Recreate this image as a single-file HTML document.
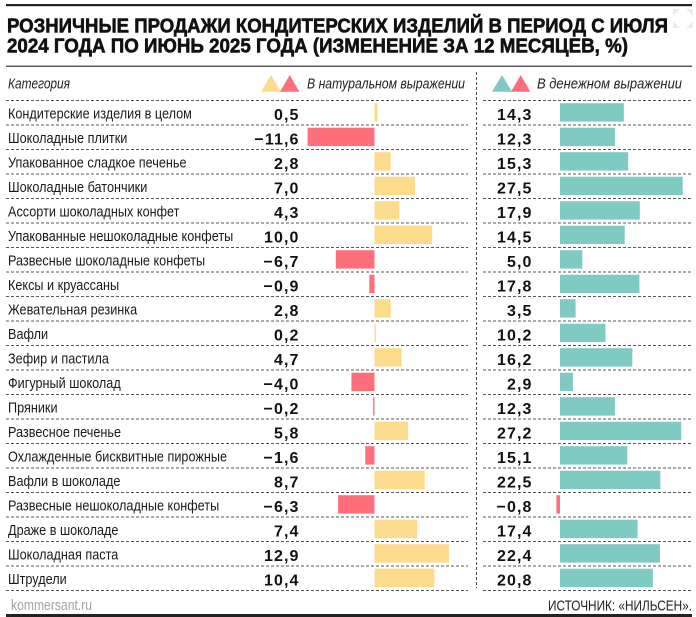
<!DOCTYPE html>
<html><head><meta charset="utf-8"><style>
html,body{margin:0;padding:0;background:#fff;}
svg{display:block;}
.lb{font-family:"Liberation Sans","DejaVu Sans",sans-serif;font-size:15px;fill:#1a1a1a;}
.nm{font-family:"Liberation Sans","DejaVu Sans",sans-serif;font-size:16px;font-weight:bold;fill:#111;letter-spacing:1.1px;text-anchor:end;}
.hd{font-family:"Liberation Sans","DejaVu Sans",sans-serif;font-size:15px;font-style:italic;fill:#222;}
.tt{font-family:"Liberation Sans","DejaVu Sans",sans-serif;font-size:20px;font-weight:bold;fill:#111;stroke:#111;stroke-width:0.6;}
.dl{stroke:#555;stroke-width:1;stroke-dasharray:3 2;}
.y{fill:#FDDB8C;} .r{fill:#FF6F7B;} .t{fill:#80CAC4;}
</style></head><body>
<svg width="696" height="617" viewBox="0 0 696 617" xmlns="http://www.w3.org/2000/svg">
<rect width="696" height="617" fill="#fff"/>
<!-- top rule -->
<rect x="6" y="4" width="686" height="2.2" fill="#222"/>
<!-- expand icon faint -->
<g fill="#ececec">
<polygon points="673,9 680,9 673,16"/><polygon points="693,9 686,9 693,16"/>
<polygon points="673,28 680,28 673,21"/><polygon points="693,28 686,28 693,21"/>
</g>
<text class="tt" x="7" y="32.7" textLength="661" lengthAdjust="spacingAndGlyphs">РОЗНИЧНЫЕ ПРОДАЖИ КОНДИТЕРСКИХ ИЗДЕЛИЙ В ПЕРИОД С ИЮЛЯ</text>
<text class="tt" x="7" y="52.3" textLength="621" lengthAdjust="spacingAndGlyphs">2024 ГОДА ПО ИЮНЬ 2025 ГОДА (ИЗМЕНЕНИЕ ЗА 12 МЕСЯЦЕВ, %)</text>
<rect x="6" y="65.6" width="686" height="1.3" fill="#444"/>

<!-- header -->
<text class="hd" x="8" y="88.5" textLength="62" lengthAdjust="spacingAndGlyphs">Категория</text>
<polygon class="y" points="261,91.7 271,75 281,91.7"/>
<polygon class="r" points="280,91.7 289.7,75 299.4,91.7"/>
<text class="hd" x="307" y="88.5" textLength="158" lengthAdjust="spacingAndGlyphs">В натуральном выражении</text>
<polygon class="t" points="492,91.7 502,75 512,91.7"/>
<polygon class="r" points="511,91.7 520.7,75 530.4,91.7"/>
<text class="hd" x="537" y="88.5" textLength="145" lengthAdjust="spacingAndGlyphs">В денежном выражении</text>

<!-- vertical separator -->
<line class="dl" x1="476.5" y1="72" x2="476.5" y2="588"/>

<!-- dotted row lines -->
<g>
<line class="dl" x1="6" y1="100.5" x2="468" y2="100.5"/><line class="dl" x1="483" y1="100.5" x2="692" y2="100.5"/>
<line class="dl" x1="6" y1="125" x2="468" y2="125"/><line class="dl" x1="483" y1="125" x2="692" y2="125"/>
<line class="dl" x1="6" y1="149.5" x2="468" y2="149.5"/><line class="dl" x1="483" y1="149.5" x2="692" y2="149.5"/>
<line class="dl" x1="6" y1="174" x2="468" y2="174"/><line class="dl" x1="483" y1="174" x2="692" y2="174"/>
<line class="dl" x1="6" y1="198.5" x2="468" y2="198.5"/><line class="dl" x1="483" y1="198.5" x2="692" y2="198.5"/>
<line class="dl" x1="6" y1="223" x2="468" y2="223"/><line class="dl" x1="483" y1="223" x2="692" y2="223"/>
<line class="dl" x1="6" y1="247.5" x2="468" y2="247.5"/><line class="dl" x1="483" y1="247.5" x2="692" y2="247.5"/>
<line class="dl" x1="6" y1="272" x2="468" y2="272"/><line class="dl" x1="483" y1="272" x2="692" y2="272"/>
<line class="dl" x1="6" y1="296.5" x2="468" y2="296.5"/><line class="dl" x1="483" y1="296.5" x2="692" y2="296.5"/>
<line class="dl" x1="6" y1="321" x2="468" y2="321"/><line class="dl" x1="483" y1="321" x2="692" y2="321"/>
<line class="dl" x1="6" y1="345.5" x2="468" y2="345.5"/><line class="dl" x1="483" y1="345.5" x2="692" y2="345.5"/>
<line class="dl" x1="6" y1="370" x2="468" y2="370"/><line class="dl" x1="483" y1="370" x2="692" y2="370"/>
<line class="dl" x1="6" y1="394.5" x2="468" y2="394.5"/><line class="dl" x1="483" y1="394.5" x2="692" y2="394.5"/>
<line class="dl" x1="6" y1="419" x2="468" y2="419"/><line class="dl" x1="483" y1="419" x2="692" y2="419"/>
<line class="dl" x1="6" y1="443.5" x2="468" y2="443.5"/><line class="dl" x1="483" y1="443.5" x2="692" y2="443.5"/>
<line class="dl" x1="6" y1="468" x2="468" y2="468"/><line class="dl" x1="483" y1="468" x2="692" y2="468"/>
<line class="dl" x1="6" y1="492.5" x2="468" y2="492.5"/><line class="dl" x1="483" y1="492.5" x2="692" y2="492.5"/>
<line class="dl" x1="6" y1="517" x2="468" y2="517"/><line class="dl" x1="483" y1="517" x2="692" y2="517"/>
<line class="dl" x1="6" y1="541.5" x2="468" y2="541.5"/><line class="dl" x1="483" y1="541.5" x2="692" y2="541.5"/>
<line class="dl" x1="6" y1="566" x2="468" y2="566"/><line class="dl" x1="483" y1="566" x2="692" y2="566"/>
<line class="dl" x1="6" y1="590.5" x2="468" y2="590.5"/><line class="dl" x1="483" y1="590.5" x2="692" y2="590.5"/>
</g>

<!-- labels -->
<g transform="translate(8,0) scale(0.845,1)">
<text class="lb" x="0" y="118.5">Кондитерские изделия в целом</text>
<text class="lb" x="0" y="143">Шоколадные плитки</text>
<text class="lb" x="0" y="167.5">Упакованное сладкое печенье</text>
<text class="lb" x="0" y="192">Шоколадные батончики</text>
<text class="lb" x="0" y="216.5">Ассорти шоколадных конфет</text>
<text class="lb" x="0" y="241">Упакованные нешоколадные конфеты</text>
<text class="lb" x="0" y="265.5">Развесные шоколадные конфеты</text>
<text class="lb" x="0" y="290">Кексы и круассаны</text>
<text class="lb" x="0" y="314.5">Жевательная резинка</text>
<text class="lb" x="0" y="339">Вафли</text>
<text class="lb" x="0" y="363.5">Зефир и пастила</text>
<text class="lb" x="0" y="388">Фигурный шоколад</text>
<text class="lb" x="0" y="412.5">Пряники</text>
<text class="lb" x="0" y="437">Развесное печенье</text>
<text class="lb" x="0" y="461.5">Охлажденные бисквитные пирожные</text>
<text class="lb" x="0" y="486">Вафли в шоколаде</text>
<text class="lb" x="0" y="510.5">Развесные нешоколадные конфеты</text>
<text class="lb" x="0" y="535">Драже в шоколаде</text>
<text class="lb" x="0" y="559.5">Шоколадная паста</text>
<text class="lb" x="0" y="584">Штрудели</text>
</g>

<!-- natural numbers -->
<g>
<text class="nm" x="299.5" y="120">0,5</text>
<text class="nm" x="299.5" y="144.5">−11,6</text>
<text class="nm" x="299.5" y="169">2,8</text>
<text class="nm" x="299.5" y="193.5">7,0</text>
<text class="nm" x="299.5" y="218">4,3</text>
<text class="nm" x="299.5" y="242.5">10,0</text>
<text class="nm" x="299.5" y="267">−6,7</text>
<text class="nm" x="299.5" y="291.5">−0,9</text>
<text class="nm" x="299.5" y="316">2,8</text>
<text class="nm" x="299.5" y="340.5">0,2</text>
<text class="nm" x="299.5" y="365">4,7</text>
<text class="nm" x="299.5" y="389.5">−4,0</text>
<text class="nm" x="299.5" y="414">−0,2</text>
<text class="nm" x="299.5" y="438.5">5,8</text>
<text class="nm" x="299.5" y="463">−1,6</text>
<text class="nm" x="299.5" y="487.5">8,7</text>
<text class="nm" x="299.5" y="512">−6,3</text>
<text class="nm" x="299.5" y="536.5">7,4</text>
<text class="nm" x="299.5" y="561">12,9</text>
<text class="nm" x="299.5" y="585.5">10,4</text>
</g>

<!-- natural bars -->
<g>
<rect class="y" x="374.5" y="103.2" width="2.9" height="18.4"/>
<rect class="r" x="307.6" y="127.7" width="66.9" height="18.4"/>
<rect class="y" x="374.5" y="152.2" width="16.2" height="18.4"/>
<rect class="y" x="374.5" y="176.7" width="40.4" height="18.4"/>
<rect class="y" x="374.5" y="201.2" width="24.8" height="18.4"/>
<rect class="y" x="374.5" y="225.7" width="57.7" height="18.4"/>
<rect class="r" x="335.8" y="250.2" width="38.7" height="18.4"/>
<rect class="r" x="369.3" y="274.7" width="5.2" height="18.4"/>
<rect class="y" x="374.5" y="299.2" width="16.2" height="18.4"/>
<rect class="y" x="374.5" y="323.7" width="1.4" height="18.4"/>
<rect class="y" x="374.5" y="348.2" width="27.1" height="18.4"/>
<rect class="r" x="351.4" y="372.7" width="23.1" height="18.4"/>
<rect class="r" x="373.1" y="397.2" width="1.4" height="18.4"/>
<rect class="y" x="374.5" y="421.7" width="33.5" height="18.4"/>
<rect class="r" x="365.3" y="446.2" width="9.2" height="18.4"/>
<rect class="y" x="374.5" y="470.7" width="50.2" height="18.4"/>
<rect class="r" x="338.1" y="495.2" width="36.4" height="18.4"/>
<rect class="y" x="374.5" y="519.7" width="42.7" height="18.4"/>
<rect class="y" x="374.5" y="544.2" width="74.4" height="18.4"/>
<rect class="y" x="374.5" y="568.7" width="60.0" height="18.4"/>
</g>

<!-- money numbers -->
<g>
<text class="nm" x="532.5" y="120">14,3</text>
<text class="nm" x="532.5" y="144.5">12,3</text>
<text class="nm" x="532.5" y="169">15,3</text>
<text class="nm" x="532.5" y="193.5">27,5</text>
<text class="nm" x="532.5" y="218">17,9</text>
<text class="nm" x="532.5" y="242.5">14,5</text>
<text class="nm" x="532.5" y="267">5,0</text>
<text class="nm" x="532.5" y="291.5">17,8</text>
<text class="nm" x="532.5" y="316">3,5</text>
<text class="nm" x="532.5" y="340.5">10,2</text>
<text class="nm" x="532.5" y="365">16,2</text>
<text class="nm" x="532.5" y="389.5">2,9</text>
<text class="nm" x="532.5" y="414">12,3</text>
<text class="nm" x="532.5" y="438.5">27,2</text>
<text class="nm" x="532.5" y="463">15,1</text>
<text class="nm" x="532.5" y="487.5">22,5</text>
<text class="nm" x="532.5" y="512">−0,8</text>
<text class="nm" x="532.5" y="536.5">17,4</text>
<text class="nm" x="532.5" y="561">22,4</text>
<text class="nm" x="532.5" y="585.5">20,8</text>
</g>

<!-- money bars -->
<g>
<rect class="t" x="560" y="103.2" width="63.8" height="18.4"/>
<rect class="t" x="560" y="127.7" width="54.9" height="18.4"/>
<rect class="t" x="560" y="152.2" width="68.2" height="18.4"/>
<rect class="t" x="560" y="176.7" width="122.7" height="18.4"/>
<rect class="t" x="560" y="201.2" width="79.8" height="18.4"/>
<rect class="t" x="560" y="225.7" width="64.7" height="18.4"/>
<rect class="t" x="560" y="250.2" width="22.3" height="18.4"/>
<rect class="t" x="560" y="274.7" width="79.4" height="18.4"/>
<rect class="t" x="560" y="299.2" width="15.6" height="18.4"/>
<rect class="t" x="560" y="323.7" width="45.5" height="18.4"/>
<rect class="t" x="560" y="348.2" width="72.3" height="18.4"/>
<rect class="t" x="560" y="372.7" width="12.9" height="18.4"/>
<rect class="t" x="560" y="397.2" width="54.9" height="18.4"/>
<rect class="t" x="560" y="421.7" width="121.3" height="18.4"/>
<rect class="t" x="560" y="446.2" width="67.3" height="18.4"/>
<rect class="t" x="560" y="470.7" width="100.4" height="18.4"/>
<rect class="r" x="556.4" y="495.2" width="3.6" height="18.4"/>
<rect class="t" x="560" y="519.7" width="77.6" height="18.4"/>
<rect class="t" x="560" y="544.2" width="99.9" height="18.4"/>
<rect class="t" x="560" y="568.7" width="92.8" height="18.4"/>
</g>

<!-- footer -->
<text x="11" y="610" textLength="81" lengthAdjust="spacingAndGlyphs" style="font-family:'Liberation Sans',sans-serif;font-size:14.5px;fill:#a3a3a3;">kommersant.ru</text>
<text x="548" y="610.5" textLength="144" lengthAdjust="spacingAndGlyphs" style="font-family:'Liberation Sans',sans-serif;font-size:15px;fill:#222;">ИСТОЧНИК: «НИЛЬСЕН».</text>
<rect x="6" y="614" width="686" height="3" fill="#222"/>
</svg>
</body></html>
